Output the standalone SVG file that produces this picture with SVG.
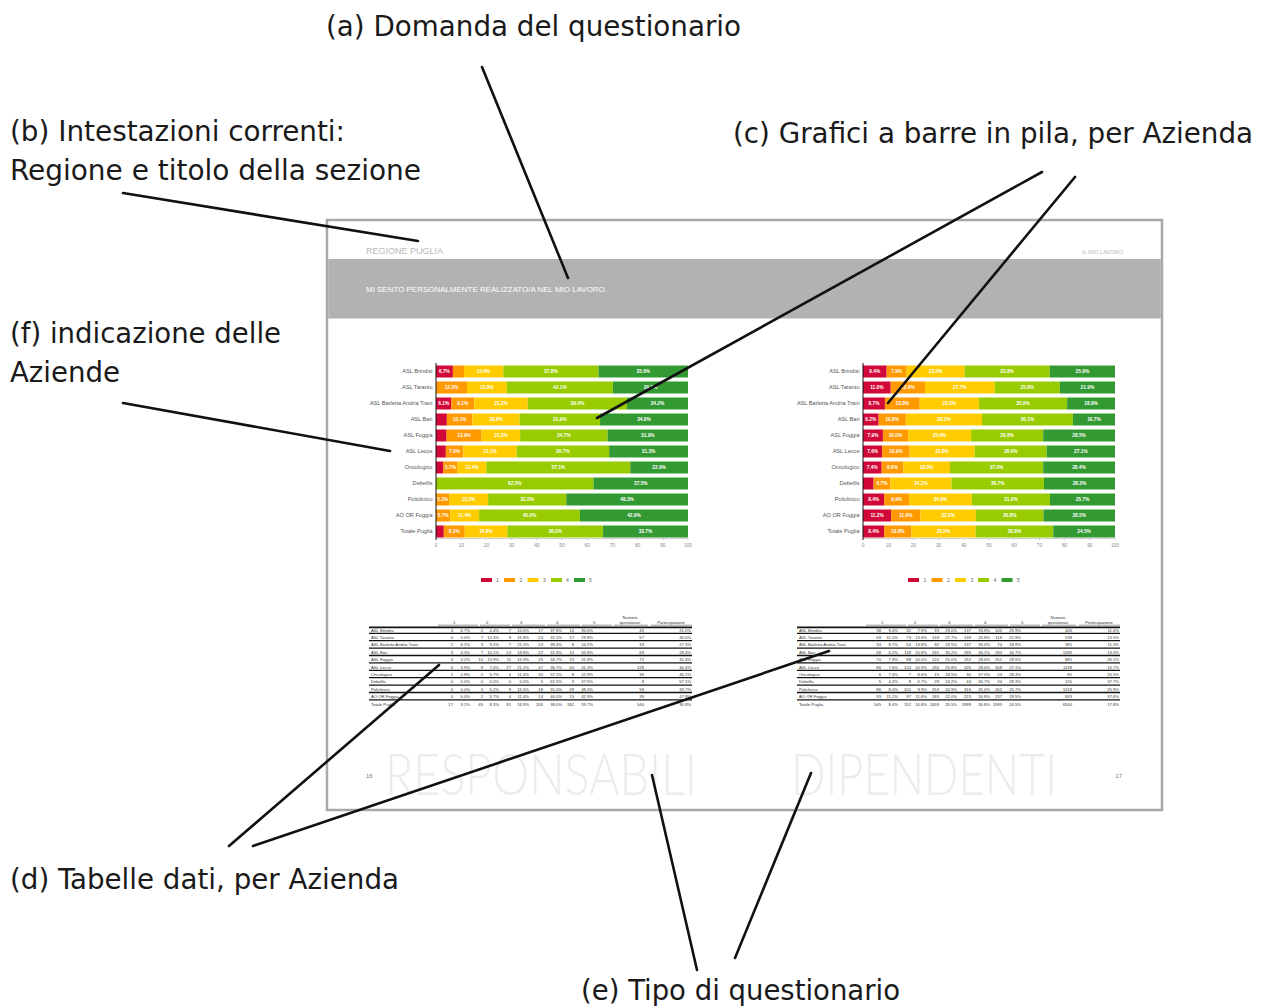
<svg xmlns="http://www.w3.org/2000/svg" width="1266" height="1008" viewBox="0 0 1266 1008">
<style>
.ann{font-family:'DejaVu Sans Condensed','Liberation Sans Narrow','Liberation Sans',sans-serif;font-size:29px;fill:#1a1a1a}
.conn line{stroke:#111;stroke-width:2.6;stroke-linecap:round}
.r1{fill:#d2073a}.r2{fill:#ff9900}.r3{fill:#ffcc00}.r4{fill:#99cc00}.r5{fill:#339933}
.bl{font-family:'Liberation Sans',Arial,sans-serif;font-size:4.8px;font-weight:bold;fill:#fff;text-anchor:middle}
.rl{font-family:'Liberation Sans',Arial,sans-serif;font-size:5.6px;fill:#555;text-anchor:end}
.tk{font-family:'Liberation Sans',Arial,sans-serif;font-size:4.8px;fill:#888;text-anchor:middle}
.lg{font-family:'Liberation Sans',Arial,sans-serif;font-size:5px;fill:#666}
.tb{font-family:'Liberation Sans Narrow','Liberation Sans',Arial,sans-serif;font-size:4.2px;fill:#333}
.tb tspan{text-anchor:end}
.tb tspan.l{text-anchor:start}
.th{font-family:'Liberation Sans Narrow','Liberation Sans',Arial,sans-serif;font-size:4.2px;fill:#333}
.rowl{stroke:#111;stroke-width:1.3}
.hdl{stroke:#111;stroke-width:1.8}
.hul{stroke:#333;stroke-width:0.5}
.big{font-family:'Lato','Liberation Sans',sans-serif;font-weight:300;font-size:50px;fill:#ececec}
.pg{font-family:'Liberation Sans Narrow','Liberation Sans',sans-serif;font-size:6px;fill:#777}
</style>
<rect width="1266" height="1008" fill="#fff"/>

<!-- page -->
<g id="page">
<rect x="327" y="220" width="835" height="590" fill="#fff" stroke="#a8a8a8" stroke-width="2.5"/>
<rect x="328.2" y="259" width="832.6" height="59.5" fill="#b2b2b2"/>
<text x="366" y="253.5" font-family="'Liberation Sans Narrow','Liberation Sans',sans-serif" font-size="8.5" fill="#b8b8b8" textLength="77" lengthAdjust="spacingAndGlyphs">REGIONE PUGLIA</text>
<text x="1082" y="253.5" font-family="'Liberation Sans Narrow','Liberation Sans',sans-serif" font-size="5.6" fill="#b8b8b8" textLength="41" lengthAdjust="spacingAndGlyphs">IL MIO LAVORO</text>
<text x="366" y="291.5" font-family="'Liberation Sans Narrow','Liberation Sans',sans-serif" font-size="7.3" fill="#fff" textLength="241" lengthAdjust="spacingAndGlyphs">MI SENTO PERSONALMENTE REALIZZATO/A NEL MIO LAVORO.</text>
<text class="big" transform="translate(385 795) scale(1 1.16)" x="0" y="0" textLength="312" lengthAdjust="spacingAndGlyphs">RESPONSABILI</text>
<text class="big" transform="translate(791 795) scale(1 1.16)" x="0" y="0" textLength="266" lengthAdjust="spacingAndGlyphs">DIPENDENTI</text>
<text class="pg" x="366" y="778">16</text>
<text class="pg" x="1122" y="778" text-anchor="end">17</text>
</g>

<!-- left chart -->
<g id="chart-responsabili">
<g transform="translate(436 0) scale(2.52 1)">
<rect class="r1" x="0" y="365.5" width="6.7" height="12"/><rect class="r2" x="6.7" y="365.5" width="4.4" height="12"/><rect class="r3" x="11.1" y="365.5" width="15.6" height="12"/><rect class="r4" x="26.7" y="365.5" width="37.8" height="12"/><rect class="r5" x="64.5" y="365.5" width="35.5" height="12"/>
<rect class="r2" x="0" y="381.5" width="12.3" height="12"/><rect class="r3" x="12.3" y="381.5" width="15.8" height="12"/><rect class="r4" x="28.1" y="381.5" width="42.1" height="12"/><rect class="r5" x="70.2" y="381.5" width="29.8" height="12"/>
<rect class="r1" x="0" y="397.5" width="6.1" height="12"/><rect class="r2" x="6.1" y="397.5" width="9.1" height="12"/><rect class="r3" x="15.2" y="397.5" width="21.2" height="12"/><rect class="r4" x="36.4" y="397.5" width="39.4" height="12"/><rect class="r5" x="75.8" y="397.5" width="24.2" height="12"/>
<rect class="r1" x="0" y="413.5" width="4.3" height="12"/><rect class="r2" x="4.3" y="413.5" width="10.1" height="12"/><rect class="r3" x="14.4" y="413.5" width="18.8" height="12"/><rect class="r4" x="33.2" y="413.5" width="31.9" height="12"/><rect class="r5" x="65.1" y="413.5" width="34.9" height="12"/>
<rect class="r1" x="0" y="429.5" width="4.2" height="12"/><rect class="r2" x="4.2" y="429.5" width="13.9" height="12"/><rect class="r3" x="18.1" y="429.5" width="15.3" height="12"/><rect class="r4" x="33.4" y="429.5" width="34.7" height="12"/><rect class="r5" x="68.1" y="429.5" width="31.9" height="12"/>
<rect class="r1" x="0" y="445.5" width="3.9" height="12"/><rect class="r2" x="3.9" y="445.5" width="7.0" height="12"/><rect class="r3" x="10.9" y="445.5" width="21.1" height="12"/><rect class="r4" x="32.0" y="445.5" width="36.7" height="12"/><rect class="r5" x="68.7" y="445.5" width="31.3" height="12"/>
<rect class="r1" x="0" y="461.5" width="2.9" height="12"/><rect class="r2" x="2.9" y="461.5" width="5.7" height="12"/><rect class="r3" x="8.6" y="461.5" width="11.4" height="12"/><rect class="r4" x="20.0" y="461.5" width="57.1" height="12"/><rect class="r5" x="77.1" y="461.5" width="22.9" height="12"/>
<rect class="r4" x="0" y="477.5" width="62.5" height="12"/><rect class="r5" x="62.5" y="477.5" width="37.5" height="12"/>
<rect class="r2" x="0" y="493.5" width="5.2" height="12"/><rect class="r3" x="5.2" y="493.5" width="15.5" height="12"/><rect class="r4" x="20.7" y="493.5" width="31.0" height="12"/><rect class="r5" x="51.7" y="493.5" width="48.3" height="12"/>
<rect class="r2" x="0" y="509.5" width="5.7" height="12"/><rect class="r3" x="5.7" y="509.5" width="11.4" height="12"/><rect class="r4" x="17.1" y="509.5" width="40.0" height="12"/><rect class="r5" x="57.1" y="509.5" width="42.9" height="12"/>
<rect class="r1" x="0" y="525.5" width="3.1" height="12"/><rect class="r2" x="3.1" y="525.5" width="8.3" height="12"/><rect class="r3" x="11.4" y="525.5" width="16.9" height="12"/><rect class="r4" x="28.3" y="525.5" width="38.0" height="12"/><rect class="r5" x="66.3" y="525.5" width="33.7" height="12"/>
</g>
<g class="bl">
<text x="444.4" y="373.3">6.7%</text><text x="483.6" y="373.3">15.6%</text><text x="550.9" y="373.3">37.8%</text><text x="643.3" y="373.3">35.6%</text>
<text x="451.5" y="389.3">12.3%</text><text x="486.9" y="389.3">15.8%</text><text x="559.9" y="389.3">42.1%</text><text x="650.5" y="389.3">29.8%</text>
<text x="443.7" y="405.3">6.1%</text><text x="462.8" y="405.3">9.1%</text><text x="501.0" y="405.3">21.2%</text><text x="577.4" y="405.3">39.4%</text><text x="657.5" y="405.3">24.2%</text>
<text x="459.6" y="421.3">10.1%</text><text x="496.0" y="421.3">18.8%</text><text x="559.9" y="421.3">31.9%</text><text x="644.0" y="421.3">34.8%</text>
<text x="464.1" y="437.3">13.9%</text><text x="500.9" y="437.3">15.3%</text><text x="563.9" y="437.3">34.7%</text><text x="647.8" y="437.3">31.9%</text>
<text x="454.6" y="453.3">7.0%</text><text x="490.1" y="453.3">21.1%</text><text x="562.9" y="453.3">36.7%</text><text x="648.6" y="453.3">31.3%</text>
<text x="450.5" y="469.3">5.7%</text><text x="472.0" y="469.3">11.4%</text><text x="558.3" y="469.3">57.1%</text><text x="659.1" y="469.3">22.9%</text>
<text x="514.8" y="485.3">62.5%</text><text x="640.8" y="485.3">37.5%</text>
<text x="442.6" y="501.3">5.2%</text><text x="468.6" y="501.3">15.5%</text><text x="527.2" y="501.3">31.0%</text><text x="627.1" y="501.3">48.3%</text>
<text x="443.2" y="517.3">5.7%</text><text x="464.7" y="517.3">11.4%</text><text x="529.5" y="517.3">40.0%</text><text x="634.0" y="517.3">42.9%</text>
<text x="454.3" y="533.3">8.3%</text><text x="486.0" y="533.3">16.9%</text><text x="555.2" y="533.3">38.0%</text><text x="645.5" y="533.3">33.7%</text>
</g>
<g class="rl">
<text x="432.5" y="373.4">ASL Brindisi</text><text x="432.5" y="389.4">ASL Taranto</text><text x="432.5" y="405.4">ASL Barletta Andria Trani</text><text x="432.5" y="421.4">ASL Bari</text><text x="432.5" y="437.4">ASL Foggia</text><text x="432.5" y="453.4">ASL Lecce</text><text x="432.5" y="469.4">Oncologico</text><text x="432.5" y="485.4">Debellis</text><text x="432.5" y="501.4">Policlinico</text><text x="432.5" y="517.4">AO OR Foggia</text><text x="432.5" y="533.4">Totale Puglia</text>
</g>
<line x1="436" y1="538.5" x2="688" y2="538.5" stroke="#bbb" stroke-width="0.7"/>
<path d="M461.2 538.5v2M486.4 538.5v2M511.6 538.5v2M536.8 538.5v2M562 538.5v2M587.2 538.5v2M612.4 538.5v2M637.6 538.5v2M662.8 538.5v2M688 538.5v2" stroke="#bbb" stroke-width="0.6"/>
<line x1="436" y1="363" x2="436" y2="540" stroke="#111" stroke-width="1"/>
<g class="tk">
<text x="436" y="547">0</text><text x="461.2" y="547">10</text><text x="486.4" y="547">20</text><text x="511.6" y="547">30</text><text x="536.8" y="547">40</text><text x="562" y="547">50</text><text x="587.2" y="547">60</text><text x="612.4" y="547">70</text><text x="637.6" y="547">80</text><text x="662.8" y="547">90</text><text x="688" y="547">100</text>
</g>
<rect class="r1" x="481" y="578" width="11" height="4"/><rect class="r2" x="504" y="578" width="11" height="4"/><rect class="r3" x="527.5" y="578" width="11" height="4"/><rect class="r4" x="551" y="578" width="11" height="4"/><rect class="r5" x="574" y="578" width="11" height="4"/>
<g class="lg"><text x="496" y="581.8">1</text><text x="519.5" y="581.8">2</text><text x="543" y="581.8">3</text><text x="566" y="581.8">4</text><text x="589" y="581.8">5</text></g>
</g>

<!-- right chart -->
<g id="chart-dipendenti">
<g transform="translate(863 0) scale(2.52 1)">
<rect class="r1" x="0" y="365.5" width="9.4" height="12"/><rect class="r2" x="9.4" y="365.5" width="7.9" height="12"/><rect class="r3" x="17.3" y="365.5" width="23.0" height="12"/><rect class="r4" x="40.3" y="365.5" width="33.8" height="12"/><rect class="r5" x="74.1" y="365.5" width="25.9" height="12"/>
<rect class="r1" x="0" y="381.5" width="11.0" height="12"/><rect class="r2" x="11.0" y="381.5" width="13.6" height="12"/><rect class="r3" x="24.6" y="381.5" width="27.7" height="12"/><rect class="r4" x="52.3" y="381.5" width="25.8" height="12"/><rect class="r5" x="78.1" y="381.5" width="21.9" height="12"/>
<rect class="r1" x="0" y="397.5" width="8.7" height="12"/><rect class="r2" x="8.7" y="397.5" width="13.8" height="12"/><rect class="r3" x="22.5" y="397.5" width="23.5" height="12"/><rect class="r4" x="46.0" y="397.5" width="35.0" height="12"/><rect class="r5" x="81.0" y="397.5" width="19.0" height="12"/>
<rect class="r1" x="0" y="413.5" width="6.2" height="12"/><rect class="r2" x="6.2" y="413.5" width="10.8" height="12"/><rect class="r3" x="17.0" y="413.5" width="30.2" height="12"/><rect class="r4" x="47.2" y="413.5" width="36.1" height="12"/><rect class="r5" x="83.3" y="413.5" width="16.7" height="12"/>
<rect class="r1" x="0" y="429.5" width="7.9" height="12"/><rect class="r2" x="7.9" y="429.5" width="10.0" height="12"/><rect class="r3" x="17.9" y="429.5" width="25.0" height="12"/><rect class="r4" x="42.9" y="429.5" width="28.6" height="12"/><rect class="r5" x="71.5" y="429.5" width="28.5" height="12"/>
<rect class="r1" x="0" y="445.5" width="7.6" height="12"/><rect class="r2" x="7.6" y="445.5" width="10.9" height="12"/><rect class="r3" x="18.5" y="445.5" width="25.8" height="12"/><rect class="r4" x="44.3" y="445.5" width="28.6" height="12"/><rect class="r5" x="72.9" y="445.5" width="27.1" height="12"/>
<rect class="r1" x="0" y="461.5" width="7.4" height="12"/><rect class="r2" x="7.4" y="461.5" width="8.6" height="12"/><rect class="r3" x="16.0" y="461.5" width="18.5" height="12"/><rect class="r4" x="34.5" y="461.5" width="37.0" height="12"/><rect class="r5" x="71.5" y="461.5" width="28.5" height="12"/>
<rect class="r1" x="0" y="477.5" width="4.2" height="12"/><rect class="r2" x="4.2" y="477.5" width="6.7" height="12"/><rect class="r3" x="10.9" y="477.5" width="24.2" height="12"/><rect class="r4" x="35.1" y="477.5" width="36.7" height="12"/><rect class="r5" x="71.8" y="477.5" width="28.2" height="12"/>
<rect class="r1" x="0" y="493.5" width="8.4" height="12"/><rect class="r2" x="8.4" y="493.5" width="9.9" height="12"/><rect class="r3" x="18.3" y="493.5" width="24.9" height="12"/><rect class="r4" x="43.2" y="493.5" width="31.0" height="12"/><rect class="r5" x="74.2" y="493.5" width="25.8" height="12"/>
<rect class="r1" x="0" y="509.5" width="11.2" height="12"/><rect class="r2" x="11.2" y="509.5" width="11.6" height="12"/><rect class="r3" x="22.8" y="509.5" width="22.0" height="12"/><rect class="r4" x="44.8" y="509.5" width="26.8" height="12"/><rect class="r5" x="71.6" y="509.5" width="28.4" height="12"/>
<rect class="r1" x="0" y="525.5" width="8.4" height="12"/><rect class="r2" x="8.4" y="525.5" width="10.8" height="12"/><rect class="r3" x="19.2" y="525.5" width="25.5" height="12"/><rect class="r4" x="44.7" y="525.5" width="30.8" height="12"/><rect class="r5" x="75.5" y="525.5" width="24.5" height="12"/>
</g>
<g class="bl">
<text x="874.8" y="373.3">9.4%</text><text x="896.6" y="373.3">7.9%</text><text x="935.6" y="373.3">23.0%</text><text x="1007.1" y="373.3">33.8%</text><text x="1082.4" y="373.3">25.9%</text>
<text x="876.9" y="389.3">11.0%</text><text x="907.9" y="389.3">13.6%</text><text x="959.9" y="389.3">27.7%</text><text x="1027.3" y="389.3">25.8%</text><text x="1087.4" y="389.3">21.9%</text>
<text x="874.0" y="405.3">8.7%</text><text x="902.3" y="405.3">13.8%</text><text x="949.3" y="405.3">23.5%</text><text x="1023.0" y="405.3">35.0%</text><text x="1091.1" y="405.3">18.9%</text>
<text x="870.8" y="421.3">6.2%</text><text x="892.2" y="421.3">10.8%</text><text x="943.9" y="421.3">30.2%</text><text x="1027.4" y="421.3">36.1%</text><text x="1094.0" y="421.3">16.7%</text>
<text x="873.0" y="437.3">7.9%</text><text x="895.5" y="437.3">10.0%</text><text x="939.6" y="437.3">25.0%</text><text x="1007.1" y="437.3">28.6%</text><text x="1079.1" y="437.3">28.5%</text>
<text x="872.6" y="453.3">7.6%</text><text x="895.9" y="453.3">10.9%</text><text x="942.1" y="453.3">25.8%</text><text x="1010.7" y="453.3">28.6%</text><text x="1080.9" y="453.3">27.1%</text>
<text x="872.3" y="469.3">7.4%</text><text x="892.5" y="469.3">8.6%</text><text x="926.6" y="469.3">18.5%</text><text x="996.6" y="469.3">37.0%</text><text x="1079.0" y="469.3">28.4%</text>
<text x="882.0" y="485.3">6.7%</text><text x="921.0" y="485.3">24.2%</text><text x="997.7" y="485.3">36.7%</text><text x="1079.5" y="485.3">28.3%</text>
<text x="873.6" y="501.3">8.4%</text><text x="896.6" y="501.3">9.9%</text><text x="940.5" y="501.3">24.9%</text><text x="1010.9" y="501.3">31.0%</text><text x="1082.5" y="501.3">25.7%</text>
<text x="877.1" y="517.3">11.2%</text><text x="905.8" y="517.3">11.6%</text><text x="948.2" y="517.3">22.0%</text><text x="1009.7" y="517.3">26.8%</text><text x="1079.2" y="517.3">28.5%</text>
<text x="873.6" y="533.3">8.4%</text><text x="897.8" y="533.3">10.8%</text><text x="943.5" y="533.3">25.5%</text><text x="1014.5" y="533.3">30.8%</text><text x="1084.1" y="533.3">24.5%</text>
</g>
<g class="rl">
<text x="859.5" y="373.4">ASL Brindisi</text><text x="859.5" y="389.4">ASL Taranto</text><text x="859.5" y="405.4">ASL Barletta Andria Trani</text><text x="859.5" y="421.4">ASL Bari</text><text x="859.5" y="437.4">ASL Foggia</text><text x="859.5" y="453.4">ASL Lecce</text><text x="859.5" y="469.4">Oncologico</text><text x="859.5" y="485.4">Debellis</text><text x="859.5" y="501.4">Policlinico</text><text x="859.5" y="517.4">AO OR Foggia</text><text x="859.5" y="533.4">Totale Puglia</text>
</g>
<line x1="863" y1="538.5" x2="1115" y2="538.5" stroke="#bbb" stroke-width="0.7"/>
<path d="M888.2 538.5v2M913.4 538.5v2M938.6 538.5v2M963.8 538.5v2M989 538.5v2M1014.2 538.5v2M1039.4 538.5v2M1064.6 538.5v2M1089.8 538.5v2M1115 538.5v2" stroke="#bbb" stroke-width="0.6"/>
<line x1="863" y1="363" x2="863" y2="540" stroke="#111" stroke-width="1"/>
<g class="tk">
<text x="863" y="547">0</text><text x="888.2" y="547">10</text><text x="913.4" y="547">20</text><text x="938.6" y="547">30</text><text x="963.8" y="547">40</text><text x="989" y="547">50</text><text x="1014.2" y="547">60</text><text x="1039.4" y="547">70</text><text x="1064.6" y="547">80</text><text x="1089.8" y="547">90</text><text x="1115" y="547">100</text>
</g>
<rect class="r1" x="908" y="578" width="11" height="4"/><rect class="r2" x="931.5" y="578" width="11" height="4"/><rect class="r3" x="955" y="578" width="11" height="4"/><rect class="r4" x="978" y="578" width="11" height="4"/><rect class="r5" x="1001.5" y="578" width="11" height="4"/>
<g class="lg"><text x="923.5" y="581.8">1</text><text x="947" y="581.8">2</text><text x="970.5" y="581.8">3</text><text x="993.5" y="581.8">4</text><text x="1017" y="581.8">5</text></g>
</g>

<!-- left table -->
<g id="table-responsabili">
<g class="th">
<text x="453" y="623.5">1</text><text x="486" y="623.5">2</text><text x="520" y="623.5">3</text><text x="556" y="623.5">4</text><text x="593" y="623.5">5</text>
<text x="630" y="618.5" text-anchor="middle">Numero</text><text x="630" y="623.8" text-anchor="middle">questionari</text><text x="671" y="623.8" text-anchor="middle">Partecipazione</text>
</g>
<path class="hul" d="M438 625.2H478M480 625.2H510M512 625.2H545M547 625.2H580M582 625.2H612M614 625.2H648M651 625.2H692"/>
<line class="hdl" x1="369" y1="627.3" x2="692" y2="627.3"/>
<g class="rowl">
<line x1="369" y1="633.3" x2="692" y2="633.3"/><line x1="369" y1="640.7" x2="692" y2="640.7"/><line x1="369" y1="648.1" x2="692" y2="648.1"/><line x1="369" y1="655.5" x2="692" y2="655.5"/><line x1="369" y1="662.9" x2="692" y2="662.9"/><line x1="369" y1="670.3" x2="692" y2="670.3"/><line x1="369" y1="677.7" x2="692" y2="677.7"/><line x1="369" y1="685.1" x2="692" y2="685.1"/><line x1="369" y1="692.5" x2="692" y2="692.5"/><line x1="369" y1="699.9" x2="692" y2="699.9"/>
</g>
<text class="tb" y="631.5"><tspan class="l" x="371">ASL Brindisi</tspan><tspan x="453">3</tspan><tspan x="470">6.7%</tspan><tspan x="483">2</tspan><tspan x="499">4.4%</tspan><tspan x="511">7</tspan><tspan x="529">15.6%</tspan><tspan x="543">17</tspan><tspan x="562">37.8%</tspan><tspan x="574">16</tspan><tspan x="593">35.6%</tspan><tspan x="644">45</tspan><tspan x="691">21.0%</tspan></text>
<text class="tb" y="638.9"><tspan class="l" x="371">ASL Taranto</tspan><tspan x="453">0</tspan><tspan x="470">0.0%</tspan><tspan x="483">7</tspan><tspan x="499">12.3%</tspan><tspan x="511">9</tspan><tspan x="529">15.8%</tspan><tspan x="543">24</tspan><tspan x="562">42.1%</tspan><tspan x="574">17</tspan><tspan x="593">29.8%</tspan><tspan x="644">57</tspan><tspan x="691">30.0%</tspan></text>
<text class="tb" y="646.3"><tspan class="l" x="371">ASL Barletta Andria Trani</tspan><tspan x="453">2</tspan><tspan x="470">6.1%</tspan><tspan x="483">3</tspan><tspan x="499">9.1%</tspan><tspan x="511">7</tspan><tspan x="529">21.2%</tspan><tspan x="543">13</tspan><tspan x="562">39.4%</tspan><tspan x="574">8</tspan><tspan x="593">24.2%</tspan><tspan x="644">33</tspan><tspan x="691">27.3%</tspan></text>
<text class="tb" y="653.7"><tspan class="l" x="371">ASL Bari</tspan><tspan x="453">3</tspan><tspan x="470">4.3%</tspan><tspan x="483">7</tspan><tspan x="499">10.1%</tspan><tspan x="511">13</tspan><tspan x="529">18.8%</tspan><tspan x="543">22</tspan><tspan x="562">31.9%</tspan><tspan x="574">24</tspan><tspan x="593">34.8%</tspan><tspan x="644">69</tspan><tspan x="691">29.4%</tspan></text>
<text class="tb" y="661.1"><tspan class="l" x="371">ASL Foggia</tspan><tspan x="453">3</tspan><tspan x="470">4.2%</tspan><tspan x="483">10</tspan><tspan x="499">13.9%</tspan><tspan x="511">11</tspan><tspan x="529">15.3%</tspan><tspan x="543">25</tspan><tspan x="562">34.7%</tspan><tspan x="574">23</tspan><tspan x="593">31.9%</tspan><tspan x="644">72</tspan><tspan x="691">31.4%</tspan></text>
<text class="tb" y="668.5"><tspan class="l" x="371">ASL Lecce</tspan><tspan x="453">5</tspan><tspan x="470">3.9%</tspan><tspan x="483">9</tspan><tspan x="499">7.0%</tspan><tspan x="511">27</tspan><tspan x="529">21.1%</tspan><tspan x="543">47</tspan><tspan x="562">36.7%</tspan><tspan x="574">40</tspan><tspan x="593">31.3%</tspan><tspan x="644">128</tspan><tspan x="691">30.4%</tspan></text>
<text class="tb" y="675.9"><tspan class="l" x="371">Oncologico</tspan><tspan x="453">1</tspan><tspan x="470">2.9%</tspan><tspan x="483">2</tspan><tspan x="499">5.7%</tspan><tspan x="511">4</tspan><tspan x="529">11.4%</tspan><tspan x="543">20</tspan><tspan x="562">57.1%</tspan><tspan x="574">8</tspan><tspan x="593">22.9%</tspan><tspan x="644">35</tspan><tspan x="691">46.1%</tspan></text>
<text class="tb" y="683.3"><tspan class="l" x="371">Debellis</tspan><tspan x="453">0</tspan><tspan x="470">0.0%</tspan><tspan x="483">0</tspan><tspan x="499">0.0%</tspan><tspan x="511">0</tspan><tspan x="529">0.0%</tspan><tspan x="543">5</tspan><tspan x="562">62.5%</tspan><tspan x="574">3</tspan><tspan x="593">37.5%</tspan><tspan x="644">8</tspan><tspan x="691">57.1%</tspan></text>
<text class="tb" y="690.7"><tspan class="l" x="371">Policlinico</tspan><tspan x="453">0</tspan><tspan x="470">0.0%</tspan><tspan x="483">3</tspan><tspan x="499">5.2%</tspan><tspan x="511">9</tspan><tspan x="529">15.5%</tspan><tspan x="543">18</tspan><tspan x="562">31.0%</tspan><tspan x="574">28</tspan><tspan x="593">48.3%</tspan><tspan x="644">58</tspan><tspan x="691">33.7%</tspan></text>
<text class="tb" y="698.1"><tspan class="l" x="371">AO OR Foggia</tspan><tspan x="453">0</tspan><tspan x="470">0.0%</tspan><tspan x="483">2</tspan><tspan x="499">5.7%</tspan><tspan x="511">4</tspan><tspan x="529">11.4%</tspan><tspan x="543">14</tspan><tspan x="562">40.0%</tspan><tspan x="574">15</tspan><tspan x="593">42.9%</tspan><tspan x="644">35</tspan><tspan x="691">47.9%</tspan></text>
<text class="tb" y="705.5"><tspan class="l" x="371">Totale Puglia</tspan><tspan x="453">17</tspan><tspan x="470">3.1%</tspan><tspan x="483">45</tspan><tspan x="499">8.3%</tspan><tspan x="511">91</tspan><tspan x="529">16.9%</tspan><tspan x="543">205</tspan><tspan x="562">38.0%</tspan><tspan x="574">182</tspan><tspan x="593">33.7%</tspan><tspan x="644">540</tspan><tspan x="691">30.9%</tspan></text>
</g>

<!-- right table -->
<g id="table-dipendenti">
<g class="th">
<text x="881" y="623.5">1</text><text x="914" y="623.5">2</text><text x="948" y="623.5">3</text><text x="984" y="623.5">4</text><text x="1021" y="623.5">5</text>
<text x="1058" y="618.5" text-anchor="middle">Numero</text><text x="1058" y="623.8" text-anchor="middle">questionari</text><text x="1099" y="623.8" text-anchor="middle">Partecipazione</text>
</g>
<path class="hul" d="M866 625.2H906M908 625.2H938M940 625.2H973M975 625.2H1008M1010 625.2H1040M1042 625.2H1076M1079 625.2H1120"/>
<line class="hdl" x1="797" y1="627.3" x2="1120" y2="627.3"/>
<g class="rowl">
<line x1="797" y1="633.3" x2="1120" y2="633.3"/><line x1="797" y1="640.7" x2="1120" y2="640.7"/><line x1="797" y1="648.1" x2="1120" y2="648.1"/><line x1="797" y1="655.5" x2="1120" y2="655.5"/><line x1="797" y1="662.9" x2="1120" y2="662.9"/><line x1="797" y1="670.3" x2="1120" y2="670.3"/><line x1="797" y1="677.7" x2="1120" y2="677.7"/><line x1="797" y1="685.1" x2="1120" y2="685.1"/><line x1="797" y1="692.5" x2="1120" y2="692.5"/><line x1="797" y1="699.9" x2="1120" y2="699.9"/>
</g>
<text class="tb" y="631.5"><tspan class="l" x="799">ASL Brindisi</tspan><tspan x="881">38</tspan><tspan x="898">9.4%</tspan><tspan x="911">32</tspan><tspan x="927">7.9%</tspan><tspan x="939">93</tspan><tspan x="957">23.0%</tspan><tspan x="971">137</tspan><tspan x="990">33.8%</tspan><tspan x="1002">105</tspan><tspan x="1021">25.9%</tspan><tspan x="1072">405</tspan><tspan x="1119">11.6%</tspan></text>
<text class="tb" y="638.9"><tspan class="l" x="799">ASL Taranto</tspan><tspan x="881">59</tspan><tspan x="898">11.0%</tspan><tspan x="911">73</tspan><tspan x="927">13.6%</tspan><tspan x="939">149</tspan><tspan x="957">27.7%</tspan><tspan x="971">139</tspan><tspan x="990">25.8%</tspan><tspan x="1002">118</tspan><tspan x="1021">21.9%</tspan><tspan x="1072">538</tspan><tspan x="1119">13.5%</tspan></text>
<text class="tb" y="646.3"><tspan class="l" x="799">ASL Barletta Andria Trani</tspan><tspan x="881">34</tspan><tspan x="898">8.7%</tspan><tspan x="911">54</tspan><tspan x="927">13.8%</tspan><tspan x="939">92</tspan><tspan x="957">23.5%</tspan><tspan x="971">137</tspan><tspan x="990">35.0%</tspan><tspan x="1002">74</tspan><tspan x="1021">18.9%</tspan><tspan x="1072">391</tspan><tspan x="1119">11.3%</tspan></text>
<text class="tb" y="653.7"><tspan class="l" x="799">ASL Bari</tspan><tspan x="881">68</tspan><tspan x="898">6.2%</tspan><tspan x="911">118</tspan><tspan x="927">10.8%</tspan><tspan x="939">331</tspan><tspan x="957">30.2%</tspan><tspan x="971">395</tspan><tspan x="990">36.1%</tspan><tspan x="1002">183</tspan><tspan x="1021">16.7%</tspan><tspan x="1072">1095</tspan><tspan x="1119">13.3%</tspan></text>
<text class="tb" y="661.1"><tspan class="l" x="799">ASL Foggia</tspan><tspan x="881">70</tspan><tspan x="898">7.9%</tspan><tspan x="911">88</tspan><tspan x="927">10.0%</tspan><tspan x="939">220</tspan><tspan x="957">25.0%</tspan><tspan x="971">252</tspan><tspan x="990">28.6%</tspan><tspan x="1002">251</tspan><tspan x="1021">28.5%</tspan><tspan x="1072">881</tspan><tspan x="1119">26.1%</tspan></text>
<text class="tb" y="668.5"><tspan class="l" x="799">ASL Lecce</tspan><tspan x="881">86</tspan><tspan x="898">7.6%</tspan><tspan x="911">124</tspan><tspan x="927">10.9%</tspan><tspan x="939">294</tspan><tspan x="957">25.8%</tspan><tspan x="971">326</tspan><tspan x="990">28.6%</tspan><tspan x="1002">308</tspan><tspan x="1021">27.1%</tspan><tspan x="1072">1138</tspan><tspan x="1119">15.7%</tspan></text>
<text class="tb" y="675.9"><tspan class="l" x="799">Oncologico</tspan><tspan x="881">6</tspan><tspan x="898">7.4%</tspan><tspan x="911">7</tspan><tspan x="927">8.6%</tspan><tspan x="939">15</tspan><tspan x="957">18.5%</tspan><tspan x="971">30</tspan><tspan x="990">37.0%</tspan><tspan x="1002">23</tspan><tspan x="1021">28.4%</tspan><tspan x="1072">81</tspan><tspan x="1119">20.5%</tspan></text>
<text class="tb" y="683.3"><tspan class="l" x="799">Debellis</tspan><tspan x="881">5</tspan><tspan x="898">4.2%</tspan><tspan x="911">8</tspan><tspan x="927">6.7%</tspan><tspan x="939">29</tspan><tspan x="957">24.2%</tspan><tspan x="971">44</tspan><tspan x="990">36.7%</tspan><tspan x="1002">34</tspan><tspan x="1021">28.3%</tspan><tspan x="1072">120</tspan><tspan x="1119">37.7%</tspan></text>
<text class="tb" y="690.7"><tspan class="l" x="799">Policlinico</tspan><tspan x="881">86</tspan><tspan x="898">8.4%</tspan><tspan x="911">101</tspan><tspan x="927">9.9%</tspan><tspan x="939">253</tspan><tspan x="957">24.9%</tspan><tspan x="971">316</tspan><tspan x="990">31.0%</tspan><tspan x="1002">262</tspan><tspan x="1021">25.7%</tspan><tspan x="1072">1018</tspan><tspan x="1119">25.9%</tspan></text>
<text class="tb" y="698.1"><tspan class="l" x="799">AO OR Foggia</tspan><tspan x="881">93</tspan><tspan x="898">11.2%</tspan><tspan x="911">97</tspan><tspan x="927">11.6%</tspan><tspan x="939">183</tspan><tspan x="957">22.0%</tspan><tspan x="971">223</tspan><tspan x="990">26.8%</tspan><tspan x="1002">237</tspan><tspan x="1021">28.5%</tspan><tspan x="1072">833</tspan><tspan x="1119">37.6%</tspan></text>
<text class="tb" y="705.5"><tspan class="l" x="799">Totale Puglia</tspan><tspan x="881">545</tspan><tspan x="898">8.4%</tspan><tspan x="911">702</tspan><tspan x="927">10.8%</tspan><tspan x="939">1659</tspan><tspan x="957">25.5%</tspan><tspan x="971">1999</tspan><tspan x="990">30.8%</tspan><tspan x="1002">1595</tspan><tspan x="1021">24.5%</tspan><tspan x="1072">6500</tspan><tspan x="1119">17.8%</tspan></text>
</g>

<!-- connectors -->
<g id="connectors" class="conn">
<line x1="482" y1="67" x2="568" y2="278"/>
<line x1="123" y1="193" x2="418" y2="241"/>
<line x1="1042" y1="172" x2="597" y2="418"/>
<line x1="1075" y1="177" x2="888" y2="403"/>
<line x1="123" y1="403" x2="390" y2="451"/>
<line x1="229" y1="846" x2="439" y2="665"/>
<line x1="253" y1="846" x2="829" y2="651"/>
<line x1="697" y1="970" x2="652" y2="775"/>
<line x1="735" y1="958" x2="811" y2="773"/>
</g>

<!-- annotations -->
<g id="label-a"><text class="ann" x="326" y="36" textLength="415" lengthAdjust="spacingAndGlyphs">(a) Domanda del questionario</text></g>
<g id="label-b"><text class="ann" x="10" y="141" textLength="335" lengthAdjust="spacingAndGlyphs">(b) Intestazioni correnti:</text><text class="ann" x="10" y="180" textLength="411" lengthAdjust="spacingAndGlyphs">Regione e titolo della sezione</text></g>
<g id="label-c"><text class="ann" x="733" y="143" textLength="520" lengthAdjust="spacingAndGlyphs">(c) Grafici a barre in pila, per Azienda</text></g>
<g id="label-f"><text class="ann" x="10" y="343" textLength="271" lengthAdjust="spacingAndGlyphs">(f) indicazione delle</text><text class="ann" x="10" y="382" textLength="110" lengthAdjust="spacingAndGlyphs">Aziende</text></g>
<g id="label-d"><text class="ann" x="10" y="889" textLength="389" lengthAdjust="spacingAndGlyphs">(d) Tabelle dati, per Azienda</text></g>
<g id="label-e"><text class="ann" x="581" y="1000" textLength="319" lengthAdjust="spacingAndGlyphs">(e) Tipo di questionario</text></g>
</svg>
